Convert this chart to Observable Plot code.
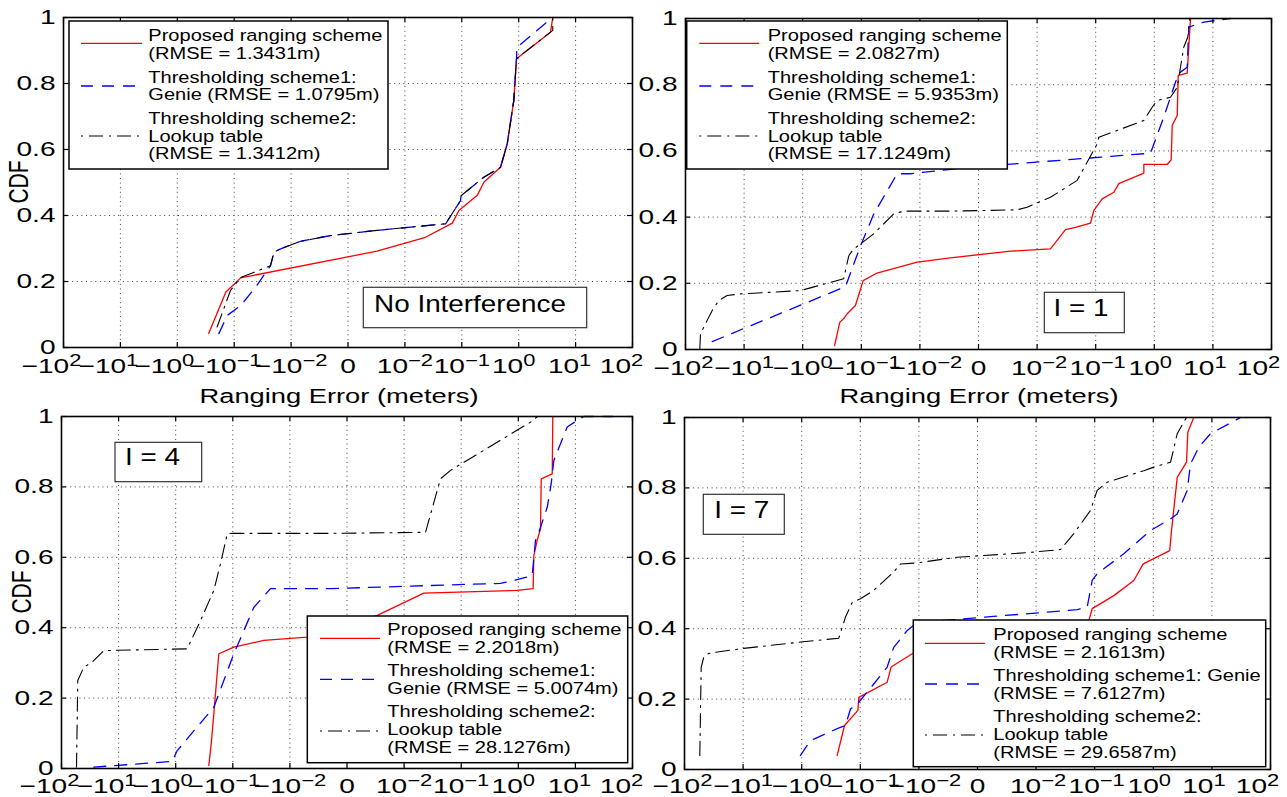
<!DOCTYPE html>
<html><head><meta charset="utf-8">
<script src="https://cdn.jsdelivr.net/npm/d3@7"></script>
<script src="https://cdn.jsdelivr.net/npm/@observablehq/plot@0.6"></script>
<style>
html,body{margin:0;padding:0;background:#fff;}
#wrap{position:relative;width:1287px;height:797px;overflow:hidden;background:#fff;}
#wrap svg{position:absolute;overflow:visible;}
</style></head><body><div id="wrap"></div>
<script>
// ---- tick definitions (axis positions are in "decade" units of the symmetric log axis)
const xTickPos = [-5,-4,-3,-2,-1,0,1,2,3,4,5];
const xTickLabels = ["−10^2","−10^1","−10^0","−10^−1","−10^−2","0","10^−2","10^−1","10^0","10^1","10^2"];
const yTicks = [0,0.2,0.4,0.6,0.8,1];
const yTickLabels = ["0","0.2","0.4","0.6","0.8","1"];

// ---- panel titles and RMSE values
const panelNotes = ["No Interference","I = 1","I = 4","I = 7"];
const rmseProposed = [1.3431, 2.0827, 2.2018, 2.1613];
const rmseGenie = [1.0795, 5.9353, 5.0074, 7.6127];
const rmseLookup = [1.3412, 17.1249, 28.1276, 29.6587];

// ---- data: [ranging error (m), CDF]
const noInt_proposed = [[-0.28,0.043],[-0.14,0.168],[-0.077,0.211],[0.0051,0.292],[0.023,0.334],[0.068,0.377],[0.089,0.415],[0.187,0.461],[0.244,0.501],[0.479,0.546],[0.628,0.617],[0.82,0.748],[0.914,0.875],[3.62,0.955],[3.97,1.0]];
const noInt_genie = [[-0.186,0.042],[-0.133,0.097],[-0.077,0.127],[-0.042,0.183],[-0.023,0.248],[-0.020,0.289],[-0.0153,0.299],[-0.0083,0.322],[-0.0031,0.339],[0.0051,0.355],[0.052,0.375],[0.095,0.445],[0.097,0.46],[0.244,0.516],[0.479,0.546],[0.628,0.617],[0.82,0.748],[0.914,0.875],[0.93,0.909],[3.38,0.991],[3.9,1.0]];
const noInt_lookup = [[-0.2,0.062],[-0.116,0.173],[-0.077,0.212],[-0.023,0.248],[-0.020,0.289],[-0.0153,0.299],[-0.0083,0.322],[-0.0031,0.339],[0.0051,0.355],[0.052,0.375],[0.095,0.445],[0.097,0.46],[0.244,0.516],[0.479,0.546],[0.628,0.617],[0.82,0.748],[0.914,0.875],[3.97,0.961],[3.97,1.0]];

const i1_proposed = [[-0.286,0.012],[-0.233,0.082],[-0.194,0.096],[-0.174,0.108],[-0.126,0.133],[-0.093,0.208],[-0.054,0.231],[-0.0111,0.264],[-0.0048,0.277],[0.0055,0.297],[0.0169,0.304],[0.0305,0.362],[0.0452,0.369],[0.0815,0.382],[0.093,0.42],[0.129,0.455],[0.204,0.475],[0.248,0.501],[0.663,0.533],[0.663,0.559],[1.66,0.559],[1.94,0.573],[2.02,0.677],[2.46,0.707],[2.56,0.828],[3.64,0.835],[3.94,0.934],[4.15,1.0]];
const i1_genie = [[-35,0.024],[-0.186,0.19],[-0.134,0.259],[-0.1,0.319],[-0.061,0.41],[-0.0244,0.531],[-0.0145,0.531],[-0.0034,0.547],[0.0049,0.559],[0.86,0.593],[1.45,0.702],[2.46,0.823],[2.8,0.838],[3.64,0.853],[3.88,0.974],[7.0,0.989],[20,1.0]];
const i1_lookup = [[-57,0.002],[-55.5,0.047],[-42.7,0.088],[-35,0.118],[-27,0.148],[-19.5,0.163],[-11.5,0.168],[-1.09,0.178],[-0.2,0.214],[-0.163,0.284],[-0.134,0.304],[-0.103,0.319],[-0.061,0.35],[-0.0279,0.41],[-0.0188,0.418],[-0.0048,0.418],[0.0066,0.422],[0.0083,0.43],[0.0169,0.46],[0.0483,0.511],[0.106,0.621],[0.113,0.641],[0.663,0.692],[0.92,0.732],[1.12,0.752],[1.89,0.762],[2.46,0.792],[3.18,0.913],[3.73,0.944],[4.04,1.0]];

const i4_proposed = [[-0.263,0.009],[-0.239,0.07],[-0.215,0.155],[-0.176,0.326],[-0.096,0.345],[-0.0286,0.364],[-0.007,0.373],[0.0053,0.435],[0.0221,0.498],[0.957,0.506],[1.82,0.511],[1.87,0.605],[2.14,0.648],[2.45,0.681],[2.52,0.823],[3.93,0.837],[4.02,1.0]];
const i4_genie = [[-27.2,0.004],[-1.15,0.02],[-0.94,0.051],[-0.215,0.174],[-0.096,0.326],[-0.0427,0.458],[-0.0219,0.511],[-0.0029,0.511],[0.488,0.526],[0.834,0.534],[1.75,0.548],[2.0,0.648],[2.29,0.671],[3.21,0.742],[3.77,0.809],[4.19,0.875],[7.18,0.97],[10.8,0.989],[14,1.0],[45,1.0]];
const i4_lookup = [[-54.6,0.004],[-51.9,0.25],[-40.6,0.288],[-29,0.302],[-18.2,0.335],[-0.63,0.34],[-0.368,0.42],[-0.215,0.506],[-0.164,0.582],[-0.125,0.667],[-0.096,0.668],[-0.0029,0.668],[0.0237,0.671],[0.0434,0.823],[0.065,0.847],[1.64,0.984],[2.17,1.0]];

const i7_proposed = [[-0.248,0.04],[-0.186,0.125],[-0.11,0.168],[-0.106,0.205],[-0.0348,0.248],[-0.0298,0.291],[-0.013,0.329],[0.0794,0.423],[0.0906,0.457],[0.212,0.494],[0.465,0.537],[0.673,0.584],[1.91,0.622],[2.02,0.67],[2.56,0.83],[3.69,0.873],[3.88,0.958],[4.91,1.0]];
const i7_genie = [[-1.05,0.04],[-0.708,0.082],[-0.248,0.116],[-0.179,0.125],[-0.147,0.172],[-0.106,0.191],[-0.0589,0.243],[-0.0348,0.291],[-0.0269,0.347],[-0.0158,0.395],[-0.0107,0.418],[-0.0046,0.425],[0.0502,0.454],[0.0745,0.461],[0.0906,0.537],[0.11,0.556],[0.314,0.613],[0.895,0.679],[1.97,0.712],[2.56,0.726],[3.79,0.793],[4.32,0.868],[5.97,0.916],[9.46,0.954],[30.8,1.0]];
const i7_lookup = [[-54.8,0.04],[-51.9,0.291],[-46.9,0.319],[-38.5,0.33],[-11.1,0.343],[-1.05,0.362],[-0.233,0.373],[-0.179,0.433],[-0.137,0.475],[-0.0993,0.485],[-0.0589,0.509],[-0.0269,0.561],[-0.0206,0.584],[-0.0107,0.587],[-0.0035,0.603],[0.0085,0.616],[0.0261,0.625],[0.044,0.67],[0.0847,0.736],[0.11,0.793],[0.163,0.816],[0.689,0.849],[1.02,0.859],[1.97,0.873],[2.56,0.954],[3.31,0.987],[3.69,1.0]];

// ---- legend texts
const legendTexts = [
  [["Proposed ranging scheme", `(RMSE = ${rmseProposed[0].toFixed(4)}m)`], ["Thresholding scheme1:", `Genie (RMSE = ${rmseGenie[0].toFixed(4)}m)`], ["Thresholding scheme2:", "Lookup table", `(RMSE = ${rmseLookup[0].toFixed(4)}m)`]],
  [["Proposed ranging scheme", `(RMSE = ${rmseProposed[1].toFixed(4)}m)`], ["Thresholding scheme1:", `Genie (RMSE = ${rmseGenie[1].toFixed(4)}m)`], ["Thresholding scheme2:", "Lookup table", `(RMSE = ${rmseLookup[1].toFixed(4)}m)`]],
  [["Proposed ranging scheme", `(RMSE = ${rmseProposed[2].toFixed(4)}m)`], ["Thresholding scheme1:", `Genie (RMSE = ${rmseGenie[2].toFixed(4)}m)`], ["Thresholding scheme2:", "Lookup table", `(RMSE = ${rmseLookup[2].toFixed(4)}m)`]],
  [["Proposed ranging scheme", `(RMSE = ${rmseProposed[3].toFixed(4)}m)`], ["Thresholding scheme1: Genie", `(RMSE = ${rmseGenie[3].toFixed(4)}m)`], ["Thresholding scheme2:", "Lookup table", `(RMSE = ${rmseLookup[3].toFixed(4)}m)`]]
];

// ===================== layout & style =====================
const FONT = "'Liberation Sans', Arial, Helvetica, sans-serif";
const seriesStyle = [
  {stroke: "#ff0000", dash: null, width: 1.3, legendOffset: 0},
  {stroke: "#0000ff", dash: "12,9", width: 1.3, legendOffset: 0},
  {stroke: "#000000", dash: "14,6,2,6", width: 1.1, legendOffset: 20}
];
// per-tick horizontal nudges of the x tick labels (px), as placed in the reference
const labelShiftLeft = [-12, -12, -13, -9, 0, 0, 0, 0, -5, -6, -11];
const labelShiftRight = [-2, 0, 0, 3, 6, 0, 2, 2, -4, -8, -13];
const panels = [
  {left: 0,   top: 0,   width: 643, height: 410, ml: 63, mr: 11, mt: 17, mb: 63, shift: labelShiftLeft, pad: 11,
   series: [noInt_proposed, noInt_genie, noInt_lookup], cdf: [18, 182], xlab: [339, 403],
   legend: {box: [69, 21, 388, 169], s1: 81, s2: 142, tx: 148.3, ly: [43.3, 86, 136], base: [[41, 59.3], [82.7, 100], [124, 141.7, 159.3]]},
   note: {box: [363.3, 287.3, 586.7, 327.7], cx: 470, by: 312}},
  {left: 643, top: 0,   width: 644, height: 410, ml: 42, mr: 16, mt: 18, mb: 61, shift: labelShiftRight, pad: 11,
   series: [i1_proposed, i1_genie, i1_lookup], cdf: null, xlab: [979, 403],
   legend: {box: [686.7, 21, 1007.3, 169], s1: 699.3, s2: 759.3, tx: 767.7, ly: [43.3, 86, 136], base: [[41, 59.3], [82.7, 100], [124, 141.7, 159.3]]},
   note: {box: [1044.3, 292.3, 1124.3, 332.7], cx: 1081, by: 316}},
  {left: 0,   top: 410, width: 643, height: 387, ml: 61, mr: 11, mt: 6, mb: 29, shift: labelShiftLeft, pad: 9.5,
   series: [i4_proposed, i4_genie, i4_lookup], cdf: [21, 592], xlab: null,
   legend: {box: [307.3, 616, 627.7, 762.7], s1: 320, s2: 380, tx: 387.3, ly: [638.3, 679.3, 731], base: [[635, 652.7], [676, 694.3], [716.7, 735, 753.3]]},
   note: {box: [115, 442.3, 201.7, 481.7], cx: 152.5, by: 465}},
  {left: 643, top: 410, width: 644, height: 387, ml: 41, mr: 17, mt: 7, mb: 28, shift: labelShiftRight, pad: 8.5,
   series: [i7_proposed, i7_genie, i7_lookup], cdf: null, xlab: null,
   legend: {box: [913.3, 620, 1265.7, 766.7], s1: 925, s2: 985, tx: 993.3, ly: [643.3, 684, 735], base: [[640, 658.3], [681, 699], [721.7, 740, 758.3]]},
   note: {box: [703.3, 494.3, 784.3, 534.3], cx: 741.7, by: 518.3}}
];
const SX_TICK = 1.37, SX_LABEL = 1.3, SX_LEGEND = 1.18, SX_NOTE = 1.16;

// symmetric "decade" transform: each decade 1e-2..1e2 equally spaced, linear within ±0.01
const tf = v => Math.abs(v) < 0.01 ? v * 100 : Math.sign(v) * (Math.log10(Math.abs(v)) + 3);

function stretch(el, sx, pre = "") {
  const t = el.getAttribute("transform");
  if (t) { el.setAttribute("transform", `${pre} ${t} scale(${sx},1)`); return; }
  const x = +(el.getAttribute("x") || 0);
  const yAttr = el.getAttribute("y");
  const yNum = yAttr != null && /^-?[\d.]+$/.test(yAttr) ? +yAttr : 0;
  el.removeAttribute("x");
  if (yNum) el.removeAttribute("y");
  el.setAttribute("transform", `${pre} translate(${x},${yNum}) scale(${sx},1)`);
}

const wrap = document.getElementById("wrap");
const fmtX = d => xTickLabels[xTickPos.indexOf(d)];
const fmtY = d => yTickLabels[yTicks.indexOf(d)];

panels.forEach((P, pi) => {
  const iw = P.width - P.ml - P.mr, ih = P.height - P.mt - P.mb;
  const tkx = 5 / iw * 10, tky = 5 / ih;
  const grid = {stroke: "#444", strokeWidth: 1, strokeDasharray: "1,3.6"};
  const tickStyle = {stroke: "#000", strokeWidth: 1.2};
  const marks = [
    Plot.ruleX(xTickPos.slice(1, -1), {x: d => d, ...grid}),
    Plot.ruleY(yTicks.slice(1, -1), {y: d => d, ...grid}),
    ...P.series.map((s, k) => Plot.line(s, {
      x: d => tf(d[0]), y: d => d[1],
      stroke: seriesStyle[k].stroke, strokeWidth: seriesStyle[k].width,
      ...(seriesStyle[k].dash ? {strokeDasharray: seriesStyle[k].dash} : {})
    })),
    Plot.frame({stroke: "#000", strokeWidth: 1.6}),
    Plot.ruleX(xTickPos, {x: d => d, y1: () => 0, y2: () => tky, ...tickStyle}),
    Plot.ruleX(xTickPos, {x: d => d, y1: () => 1 - tky, y2: () => 1, ...tickStyle}),
    Plot.ruleY(yTicks, {y: d => d, x1: () => -5, x2: () => -5 + tkx, ...tickStyle}),
    Plot.ruleY(yTicks, {y: d => d, x1: () => 5 - tkx, x2: () => 5, ...tickStyle}),
    Plot.axisY(yTicks, {tickSize: 0, tickPadding: 8, tickFormat: fmtY, fontSize: 20.5, label: null}),
    Plot.axisX(xTickPos, {tickSize: 0, tickPadding: P.pad, tickFormat: fmtX, fontSize: 20.5, label: null})
  ];
  const svg = Plot.plot({
    width: P.width, height: P.height,
    marginLeft: P.ml, marginRight: P.mr, marginTop: P.mt, marginBottom: P.mb,
    x: {domain: [-5, 5], label: null},
    y: {domain: [0, 1], label: null},
    style: {fontFamily: FONT, background: "transparent", overflow: "visible", color: "#000"},
    marks
  });
  svg.style.left = P.left + "px";
  svg.style.top = P.top + "px";
  wrap.appendChild(svg);
  const S = d3.select(svg);

  // superscripts for x tick labels + per-tick nudge + horizontal stretch
  S.selectAll('g[aria-label="x-axis tick label"] text').each(function() {
    const s = this.textContent;
    const ti = xTickLabels.indexOf(s);
    const dx = ti >= 0 ? P.shift[ti] : 0;
    if (s.includes("^")) {
      const [b, e] = s.split("^");
      this.textContent = "";
      d3.select(this).append("tspan").text(b);
      d3.select(this).append("tspan").attr("dy", -7).attr("font-size", 16).text(e);
    }
    stretch(this, SX_TICK, `translate(${dx},0)`);
  });
  S.selectAll('g[aria-label="y-axis tick label"] text').each(function() { stretch(this, SX_TICK); });

  const g = S.append("g").attr("transform", `translate(${-P.left},${-P.top})`)
    .attr("font-family", FONT).attr("fill", "#000").attr("text-anchor", "start");

  if (P.cdf) {
    g.append("text").attr("text-anchor", "middle").attr("dominant-baseline", "central")
      .attr("font-size", 21)
      .attr("transform", `translate(${P.cdf[0]},${P.cdf[1]}) scale(${SX_LABEL},1) rotate(-90)`)
      .text("CDF");
  }
  if (P.xlab) {
    g.append("text").attr("text-anchor", "middle").attr("font-size", 21)
      .attr("transform", `translate(${P.xlab[0]},${P.xlab[1]}) scale(${SX_LABEL},1)`)
      .text("Ranging Error (meters)");
  }
  // annotation box
  const nb = P.note.box;
  g.append("rect").attr("x", nb[0]).attr("y", nb[1]).attr("width", nb[2] - nb[0]).attr("height", nb[3] - nb[1])
    .attr("fill", "#fff").attr("stroke", "#333").attr("stroke-width", 1.2);
  g.append("text").attr("text-anchor", "middle").attr("font-size", 24)
    .attr("transform", `translate(${P.note.cx},${P.note.by}) scale(${SX_NOTE},1)`)
    .text(panelNotes[pi]);

  // legend
  const L = P.legend, lb = L.box;
  g.append("rect").attr("x", lb[0]).attr("y", lb[1]).attr("width", lb[2] - lb[0]).attr("height", lb[3] - lb[1])
    .attr("fill", "#fff").attr("stroke", "#000").attr("stroke-width", 1.5);
  legendTexts[pi].forEach((lines, k) => {
    const st = seriesStyle[k];
    const ln = g.append("line").attr("x1", L.s1).attr("x2", L.s2).attr("y1", L.ly[k]).attr("y2", L.ly[k])
      .attr("stroke", st.stroke).attr("stroke-width", st.width);
    if (st.dash) ln.attr("stroke-dasharray", st.dash).attr("stroke-dashoffset", st.legendOffset);
    lines.forEach((t, j) => {
      g.append("text").attr("font-size", 17).attr("text-anchor", "start")
        .attr("transform", `translate(${L.tx},${L.base[k][j]}) scale(${SX_LEGEND},1)`)
        .text(t);
    });
  });
});
</script></body></html>
